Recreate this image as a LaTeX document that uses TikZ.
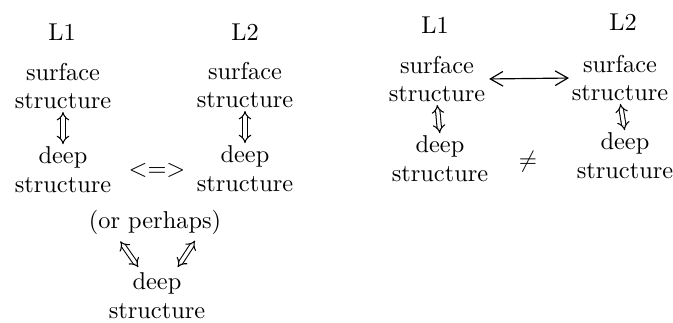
\documentclass[tikz,border=0pt]{standalone}
\usepackage{amsmath,amssymb}
\usetikzlibrary{arrows.meta}

\tikzset{
	term/.style={align=center, inner sep=0pt, font=\fontsize{10.4}{12.3}\selectfont},
	dblarrow/.style={double, double distance=1.4pt, line width=0.45pt, {Implies}-{Implies}},
	sglarrow/.style={line width=0.5pt, {Straight Barb[length=1.9mm,width=2.2mm]}-{Straight Barb[length=1.9mm,width=2.2mm]}}
}

\begin{document}
\begin{tikzpicture}[x=0.015cm, y=-0.015cm]
	\useasboundingbox (0,0) rectangle (673,322);
	% left: deep structures correspond
	\node[term] (la1) at (62,32) {L1};
	\node[term] (la2) at (245,32) {L2};
	\node[term] (sa1) at (63,86) {surface\\structure};
	\node[term] (sa2) at (245,85) {surface\\structure};
	\node[term] (da1) at (63,170) {deep\\structure};
	\node[term] (da2) at (245,169) {deep\\structure};
	\node[term] (iff) at (157,170) {\textless=\textgreater};
	\draw[dblarrow, shorten <=1pt, shorten >=1pt] (sa1.south) -- (da1.north);
	\draw[dblarrow, shorten <=1pt, shorten >=1pt] (sa2.south) -- (da2.north);
	% or a shared deep structure
	\node[term] (op) at (155,222) {(or perhaps)};
	\node[term] (da3) at (157,296) {deep\\structure};
	\draw[dblarrow] ([xshift=-0.52cm, yshift=-0.1cm]op.south) -- ([xshift=-0.28cm, yshift=0.08cm]da3.north);
	\draw[dblarrow] ([xshift=-0.42cm, yshift=0.08cm]da3.north east) -- ([xshift=0.6cm, yshift=-0.09cm]op.south);
	% right: surface structures correspond
	\node[term] (lb1) at (435,25) {L1};
	\node[term] (lb2) at (623,22) {L2};
	\node[term] (sb1) at (437,79) {surface\\structure};
	\node[term] (sb2) at (620,78) {surface\\structure};
	\node[term] (db1) at (440,159) {deep\\structure};
	\node[term] (db2) at (625,156) {deep\\structure};
	\node[term] (neq) at (528,162) {$\neq$};
	\draw[sglarrow, shorten <=1.5pt, shorten >=1pt] (sb1.east) -- (sb2.west);
	\draw[dblarrow, shorten <=1pt, shorten >=1pt] (sb1.south) -- (db1.north);
	\draw[dblarrow, shorten <=1pt, shorten >=1pt] (sb2.south) -- (db2.north);
\end{tikzpicture}
\end{document}
